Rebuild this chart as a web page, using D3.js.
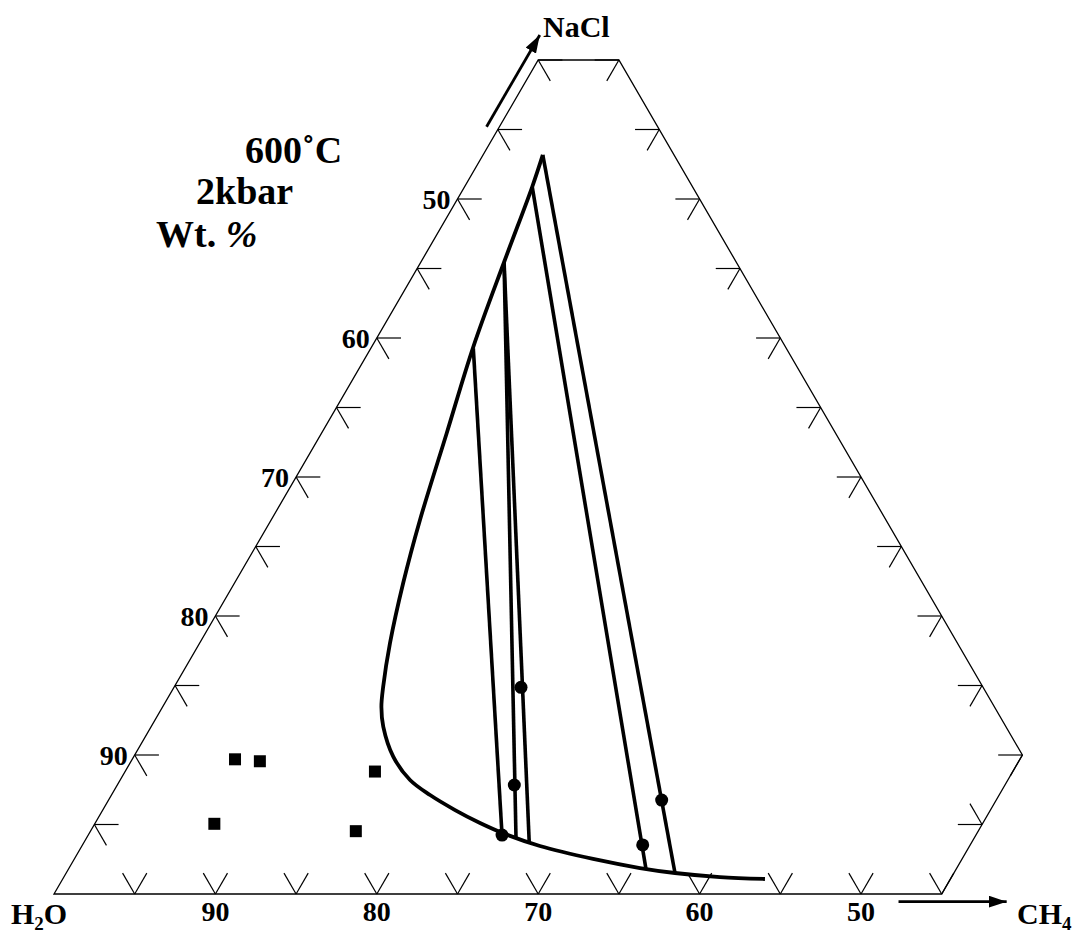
<!DOCTYPE html>
<html>
<head>
<meta charset="utf-8">
<script src="https://cdn.jsdelivr.net/npm/d3@7"></script>
<style>
  body { margin: 0; background: #fff; }
  svg { display: block; }
  text { font-family: "Liberation Serif", "Times New Roman", serif; font-weight: bold; fill: #000; }
</style>
</head>
<body>
<div class="chart"></div>
<script>
const width = 1079;
const height = 935;

// compositions are [NaCl, CH4] in wt.%, H2O makes up the rest
const solvus = [
  [53.17, 3.70], [50.88, 4.19], [45.61, 5.13], [39.35, 6.30], [33.17, 7.75], [26.91, 9.22],
  [22.37, 10.45], [18.06, 11.79], [14.91, 12.94], [13.45, 13.56], [12.04, 14.38], [9.88, 16.08],
  [8.20, 17.96], [7.12, 19.74], [6.04, 21.83], [5.11, 23.84], [4.32, 25.78], [3.45, 28.38],
  [2.52, 32.14], [1.87, 35.37], [1.51, 37.72], [1.22, 40.65], [1.08, 43.51]
];
const tieLines = [
  [[53.17, 3.70], [1.51, 37.72]],
  [[50.88, 4.19], [1.78, 35.79]],
  [[45.47, 5.15], [4.01, 26.62]],
  [[45.47, 5.15], [3.69, 27.60]],
  [[39.26, 6.35], [4.24, 25.64]]
];
const tieDots = [[14.87, 21.50], [7.84, 24.60], [4.24, 25.64], [3.53, 34.71], [6.76, 34.27]];
const inclusions = [[9.69, 6.37], [9.55, 7.98], [8.81, 15.48], [5.05, 7.41], [4.52, 16.44]];

// truncated diagram: NaCl <= 60, CH4 <= 55, H2O >= 35
const outline = [[0, 0], [0, 55], [10, 55], [60, 5], [60, 0]];
const bottomTicks = [5, 10, 15, 20, 25, 30, 35, 40, 45, 50, 55];   // CH4 on NaCl = 0
const leftTicks = [5, 10, 15, 20, 25, 30, 35, 40, 45, 50, 55, 60]; // NaCl on CH4 = 0
const rightTicks = [10, 15, 20, 25, 30, 35, 40, 45, 50, 55, 60];   // NaCl on H2O = 35
const lowerRightTicks = [5];                                         // NaCl on CH4 = 55
const labelSteps = [10, 20, 30, 40, 50];
const tickLabels = ["90", "80", "70", "60", "50"];                  // H2O wt.%

const svg = d3.select('.chart')
  .append('svg')
  .attr('width', width)
  .attr('height', height);

// ternary -> screen: horizontal = CH4 + NaCl/2, vertical = NaCl
const xScale = d3.scaleLinear().domain([0, 100]).range([54, 1668]);
const yScale = d3.scaleLinear().domain([0, 60]).range([894, 60]);
const px = d => xScale(d[1] + d[0] / 2);
const py = d => yScale(d[0]);

const line = d3.line().x(px).y(py);

// frame
svg.append('path')
  .attr('d', line(outline) + 'Z')
  .attr('fill', 'none')
  .attr('stroke', '#000')
  .attr('stroke-width', 1.3);

// tick arms, in composition steps
const t = 1.5;
const ticks = [];
bottomTicks.forEach(c => {
  ticks.push([[0, c], [t, c]]);
  ticks.push([[0, c], [t, c - t]]);
});
leftTicks.forEach(n => {
  ticks.push([[n, 0], [n, t]]);
  ticks.push([[n, 0], [n - t, t]]);
});
rightTicks.forEach(n => {
  const c = 65 - n;
  ticks.push([[n, c], [n, c - t]]);
  ticks.push([[n, c], [n - t, c]]);
});
lowerRightTicks.forEach(n => {
  ticks.push([[n, 55], [n, 55 - t]]);
  ticks.push([[n, 55], [n + t, 55 - t]]);
});

svg.append('g')
  .selectAll('path')
  .data(ticks)
  .join('path')
  .attr('d', d => line(d))
  .attr('stroke', '#000')
  .attr('stroke-width', 1.2)
  .attr('fill', 'none');

// tick labels (H2O)
svg.append('g')
  .selectAll('text')
  .data(labelSteps)
  .join('text')
  .attr('x', d => px([0, d]))
  .attr('y', d => py([0, d]) + 27)
  .attr('text-anchor', 'middle')
  .attr('font-size', 28)
  .text((d, i) => tickLabels[i]);

svg.append('g')
  .selectAll('text')
  .data(labelSteps)
  .join('text')
  .attr('x', d => px([d, 0]) - 7)
  .attr('y', d => py([d, 0]) + 10)
  .attr('text-anchor', 'end')
  .attr('font-size', 28)
  .text((d, i) => tickLabels[i]);

// solvus and tie lines
svg.append('path')
  .attr('d', d3.line().x(px).y(py).curve(d3.curveCatmullRom.alpha(0.5))(solvus))
  .attr('fill', 'none')
  .attr('stroke', '#000')
  .attr('stroke-width', 3.8);

svg.append('g')
  .selectAll('path')
  .data(tieLines)
  .join('path')
  .attr('d', d => line(d))
  .attr('fill', 'none')
  .attr('stroke', '#000')
  .attr('stroke-width', 3.6);

svg.append('g')
  .selectAll('circle')
  .data(tieDots)
  .join('circle')
  .attr('cx', px)
  .attr('cy', py)
  .attr('r', 6.5)
  .attr('fill', '#000');

svg.append('g')
  .selectAll('rect')
  .data(inclusions)
  .join('rect')
  .attr('x', d => px(d) - 6)
  .attr('y', d => py(d) - 6)
  .attr('width', 12)
  .attr('height', 12)
  .attr('fill', '#000');

// arrows
const defs = svg.append('defs');
defs.append('marker')
  .attr('id', 'head')
  .attr('viewBox', '0 0 18 12')
  .attr('refX', 18).attr('refY', 6)
  .attr('markerWidth', 18).attr('markerHeight', 12)
  .attr('markerUnits', 'userSpaceOnUse')
  .attr('orient', 'auto')
  .append('path')
  .attr('d', 'M0,0L18,6L0,12Z')
  .attr('fill', '#000');

const arrows = [
  [[55.2, -0.8], [61.8, -0.8]],
  [[-0.55, 52.6], [-0.55, 59.3]]
];
svg.append('g')
  .selectAll('path')
  .data(arrows)
  .join('path')
  .attr('d', d => line(d))
  .attr('stroke', '#000')
  .attr('stroke-width', 2.8)
  .attr('marker-end', 'url(#head)');

// corner labels
svg.append('text').attr('x', 543).attr('y', 37).attr('font-size', 30).text('NaCl');

const h2o = svg.append('text').attr('x', 11).attr('y', 924).attr('font-size', 30);
h2o.append('tspan').text('H');
h2o.append('tspan').attr('font-size', 19).attr('dy', 6).text('2');
h2o.append('tspan').attr('dy', -6).text('O');

const ch4 = svg.append('text').attr('x', 1017).attr('y', 924).attr('font-size', 30);
ch4.append('tspan').text('CH');
ch4.append('tspan').attr('font-size', 19).attr('dy', 6).text('4');

// conditions
svg.append('text').attr('x', 245).attr('y', 163).attr('font-size', 38).text('600˚C');
svg.append('text').attr('x', 196).attr('y', 204).attr('font-size', 38).text('2kbar');
const wt = svg.append('text').attr('x', 156).attr('y', 247).attr('font-size', 38);
wt.append('tspan').text('Wt. ');
wt.append('tspan').attr('font-style', 'italic').text('%');
</script>
</body>
</html>
